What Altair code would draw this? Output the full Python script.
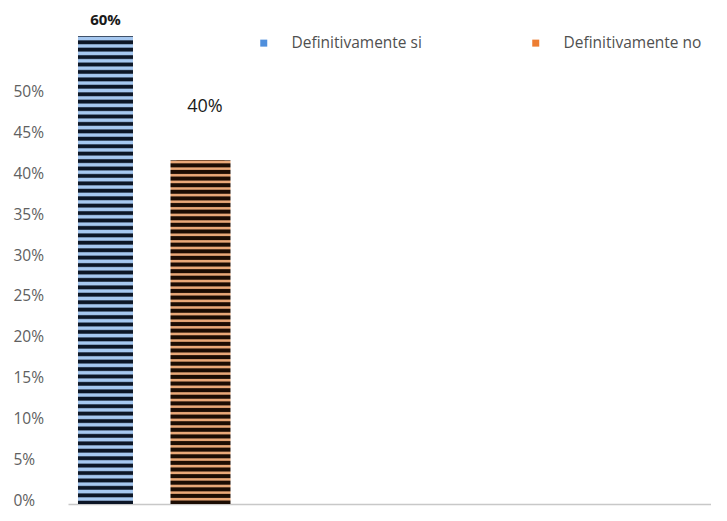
import altair as alt
import pandas as pd

categories = ["Definitivamente si", "Definitivamente no"]
values = [57.3, 42.1]
labels = ["60%", "40%"]
legend_colors = ["#4f8fdc", "#ed7d31"]
y_ticks = [0, 5, 10, 15, 20, 25, 30, 35, 40, 45, 50]

df = pd.DataFrame({"cat": categories, "pos": list(range(len(categories))),
                   "val": values, "lab": labels})


def stripes(light, dark, n, light_frac, ramp):
    stops = []
    s = 1.0 / n
    for i in range(n):
        b = i / n
        stops.append({"offset": b, "color": dark})
        stops.append({"offset": b + s * ramp, "color": light})
        stops.append({"offset": b + s * (ramp + light_frac), "color": light})
        stops.append({"offset": min(1.0, b + s * (2 * ramp + light_frac)), "color": dark})
    stops.append({"offset": 1.0, "color": dark})
    return {"gradient": "linear", "x1": 0, "y1": 0, "x2": 0, "y2": 1, "stops": stops}


blue_fill = stripes("#a6c8f0", "#0c1626", 63, 0.3, 0.18)
orange_fill = stripes("#eaa878", "#1c0c03", 52, 0.22, 0.17)

x_enc = alt.X(
    "pos:Q",
    scale=alt.Scale(domain=[-0.342, 6.321], nice=False, zero=False),
    axis=alt.Axis(title=None, labels=False, ticks=False, domain=True,
                  domainColor="#c8c8c8", domainWidth=1.5, grid=False),
)
y_enc = alt.Y(
    "val:Q",
    scale=alt.Scale(domain=[0, 60], nice=False, zero=True),
    axis=alt.Axis(title=None, values=y_ticks, labelExpr="datum.value + '%'",
                  ticks=False, tickSize=0, domain=False, grid=False,
                  labelAlign="left", labelPadding=55, labelOffset=-4,
                  labelFont="Open Sans", labelFontSize=15.5, labelColor="#606060"),
)

base = alt.Chart(df)

legend_layer = base.mark_bar(width=48).encode(
    x=x_enc,
    y=y_enc,
    color=alt.Color(
        "cat:N",
        sort=categories,
        scale=alt.Scale(domain=categories, range=legend_colors),
        legend=alt.Legend(
            title=None, orient="none", direction="horizontal",
            legendX=188, legendY=21, symbolType="square", symbolSize=49,
            symbolStrokeWidth=0, labelFont="Open Sans", labelFontSize=15.5,
            labelColor="#505050", labelOffset=20, columnPadding=106,
        ),
    ),
)

blue_bar = base.transform_filter(alt.datum.cat == categories[0]).mark_bar(
    width=55, fill=blue_fill
).encode(x=x_enc, y=y_enc)

orange_bar = base.transform_filter(alt.datum.cat == categories[1]).mark_bar(
    width=60, fill=orange_fill
).encode(x=x_enc, y=y_enc)

lab1 = base.transform_filter(alt.datum.cat == categories[0]).mark_text(
    dy=-16, font="Open Sans", fontSize=15, fontWeight="bold", color="#1a1a1a",
    baseline="middle"
).encode(x=x_enc, y=y_enc, text="lab:N")

lab2 = base.transform_filter(alt.datum.cat == categories[1]).mark_text(
    dy=-53, dx=4.5, font="Open Sans", fontSize=18, color="#1a1a1a",
    baseline="middle"
).encode(x=x_enc, y=y_enc, text="lab:N")

chart = alt.layer(legend_layer, blue_bar, orange_bar, lab1, lab2).properties(
    width=643, height=490,
    padding={"left": 60, "top": 6, "right": 0, "bottom": 9},
    autosize=alt.AutoSizeParams(type="none"),
).configure_view(stroke=None)

chart.save("out.html", embed_options={"renderer": "svg", "actions": False})
